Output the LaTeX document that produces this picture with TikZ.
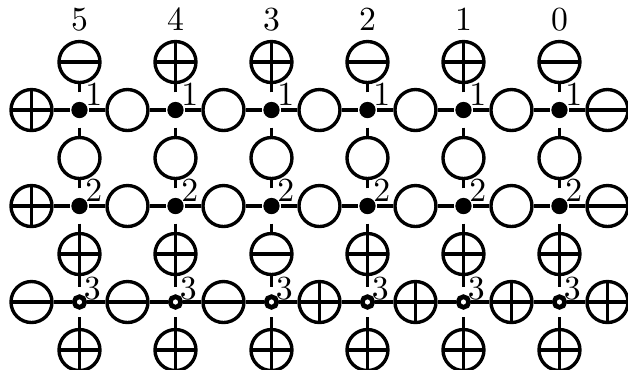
\documentclass[tikz,border=0pt]{standalone}
\usepackage{tikz}
\usetikzlibrary{positioning}

\begin{document}
\begin{tikzpicture}[
  line width=1pt,
  circ/.style={circle, draw, minimum size=0.427cm, inner sep=0pt},
  c-e/.style={},
  c-p/.style={path picture={\draw (path picture bounding box.north) -- (path picture bounding box.south)
                                  (path picture bounding box.west) -- (path picture bounding box.east);}},
  c-m/.style={path picture={\draw (path picture bounding box.west) -- (path picture bounding box.east);}},
  vdot/.style={circle, fill, minimum size=0.17cm, inner sep=0pt},
  vodot/.style={circle, draw, fill=white, line width=1.4pt, minimum size=0.11cm, inner sep=0pt},
  vlbl/.style={anchor=center, inner sep=0pt, label distance=0.115cm},
  vedge/.style={shorten <=0.08cm}
]
\useasboundingbox (-0.828,0.146) rectangle (5.714,-3.708);

% vertices
\foreach \r/\sty in {1/vdot, 2/vdot, 3/vodot}
  \foreach \i in {0,...,5}
    \node[\sty, label={[vlbl]47:\r}] (v-\r-\i) at (\i,-\r) {};

% circles on the rows
\foreach \r/\types in {1/{p,e,e,e,e,e,m}, 2/{p,e,e,e,e,e,m}, 3/{m,m,m,p,p,p,p}}
  \foreach \t [count=\j from 0] in \types
    \node[circ, c-\t] (h-\r-\j) at (\j-0.5,-\r) {};

% circles between the rows
\foreach \m/\types in {0/{m,p,p,m,p,m}, 1/{e,e,e,e,e,e}, 2/{p,p,m,p,p,p}, 3/{p,p,p,p,p,p}}
  \foreach \t [count=\i from 0] in \types
    \node[circ, c-\t] (c-\m-\i) at (\i,-\m-0.5) {};

% column numbers
\foreach \n [count=\i from 0] in {5,4,3,2,1,0}
  \node[above=0.075cm of c-0-\i, inner sep=0pt] (n-\i) {\n};

% edges
\foreach \r in {1,2,3}
  \foreach \i in {0,...,5} {
    \pgfmathtruncatemacro\k{\i+1}
    \pgfmathtruncatemacro\up{\r-1}
    \draw (v-\r-\i) -- (h-\r-\i);
    \draw (v-\r-\i) -- (h-\r-\k);
    \draw[vedge] (v-\r-\i) -- (c-\up-\i);
    \draw[vedge] (v-\r-\i) -- (c-\r-\i);
  }
\end{tikzpicture}
\end{document}
